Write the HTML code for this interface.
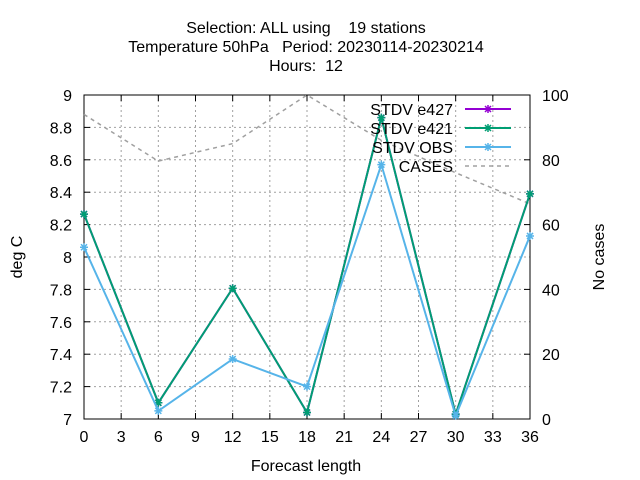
<!DOCTYPE html>
<html><head><meta charset="utf-8"><style>
html,body{margin:0;padding:0;background:#fff}
svg{display:block;font-family:"Liberation Sans",sans-serif}
</style></head><body>
<svg id="chart" width="640" height="480">
<g font-size="16" text-anchor="middle" fill="#000">
<text x="306" y="33" xml:space="preserve">Selection: ALL using    19 stations</text>
<text x="306" y="52" xml:space="preserve">Temperature 50hPa   Period: 20230114-20230214</text>
<text x="306" y="71" xml:space="preserve">Hours:  12</text>
</g>
<g id="grid"></g>
<g id="axes"></g>
<g id="series"></g>
<g id="legend"></g>
<text x="306" y="471" font-size="16" text-anchor="middle">Forecast length</text>
<text transform="translate(22,257) rotate(-90)" font-size="16" text-anchor="middle">deg C</text>
<text transform="translate(604,257) rotate(-90)" font-size="16" text-anchor="middle">No cases</text>
</svg>
<script>
const xs = [0, 6, 12, 18, 24, 30, 36];
const e427 = [8.265, 7.10, 7.807, 7.04, 8.86, 7.03, 8.39];
const e421 = [8.265, 7.10, 7.807, 7.04, 8.86, 7.03, 8.39];
const obs = [8.06, 7.05, 7.37, 7.20, 8.57, 7.02, 8.13];
const cases = [94, 79.6, 85, 100, 86, 76, 66.4];
const xTicks = [0,3,6,9,12,15,18,21,24,27,30,33,36];
const yTicks = [7,7.2,7.4,7.6,7.8,8,8.2,8.4,8.6,8.8,9];
const y2Ticks = [0,20,40,60,80,100];

const L=84,R=530,T=95,B=419;
const NS="http://www.w3.org/2000/svg";
const X=v=>L+(v-0)/36*(R-L);
const Y=v=>B-(v-7)/2*(B-T);
const Y2=v=>B-v/100*(B-T);
function mk(tag,attrs,parent){const e=document.createElementNS(NS,tag);for(const k in attrs)e.setAttribute(k,attrs[k]);parent.appendChild(e);return e;}
const grid=document.getElementById('grid'),axes=document.getElementById('axes'),ser=document.getElementById('series'),leg=document.getElementById('legend');
xTicks.forEach(t=>{
  const x=X(t);
  if(t>0&&t<36){const g=mk('line',{x1:x,x2:x,y1:T,y2:B,stroke:'#a0a0a0','stroke-dasharray':'2,3','stroke-width':1},grid);
  
  }
  mk('line',{x1:x,x2:x,y1:B,y2:B-6,stroke:'#000'},axes);
  mk('line',{x1:x,x2:x,y1:T,y2:T+6,stroke:'#000'},axes);
  const tx=mk('text',{x:x,y:B+23,'font-size':16,'text-anchor':'middle'},axes);tx.textContent=t;
  
  
});
yTicks.forEach(t=>{
  const y=Y(t);
  if(t>7&&t<9){const g=mk('line',{x1:L,x2:R,y1:y,y2:y,stroke:'#a0a0a0','stroke-dasharray':'2,3'},grid);
  
  }
  mk('line',{x1:L,x2:L+6,y1:y,y2:y,stroke:'#000'},axes);
  const tx=mk('text',{x:L-12,y:y+6,'font-size':16,'text-anchor':'end'},axes);tx.textContent=String(t);
  
  
});
y2Ticks.forEach(t=>{
  const y=Y2(t);
  mk('line',{x1:R,x2:R-6,y1:y,y2:y,stroke:'#000'},axes);
  const tx=mk('text',{x:R+12,y:y+6,'font-size':16,'text-anchor':'start'},axes);tx.textContent=t;
  
  
});
mk('rect',{x:L,y:T,width:R-L,height:B-T,fill:'none',stroke:'#000'},axes);
function star(g,x,y,c){
  mk('path',{d:`M${x-4},${y}H${x+4}M${x},${y-4}V${y+4}M${x-3},${y-3}L${x+3},${y+3}M${x-3},${y+3}L${x+3},${y-3}`,stroke:c,'stroke-width':1.5,fill:'none'},g);
}
function series(name,vals,yf,c,dash,pts){
  const g=mk('g',{},ser);
  
  
  const d=vals.map((v,i)=>(i?'L':'M')+X(xs[i])+','+yf(v)).join('');
  mk('path',{d:d,stroke:c,'stroke-width':dash?1.5:2,fill:'none','stroke-dasharray':dash?'4,4':'none'},g);
  if(pts)vals.forEach((v,i)=>star(g,X(xs[i]),yf(v),c));
}
series('cases-line',cases,Y2,'#a0a0a0',true,false);
series('e427-line',e427,Y,'#9400d3',false,true);
series('e421-line',e421,Y,'#009e73',false,true);
series('obs-line',obs,Y,'#56b4e9',false,true);
const items=[['STDV e427','#9400d3',0],['STDV e421','#009e73',0],['STDV OBS','#56b4e9',0],['CASES','#a0a0a0',1]];
items.forEach((it,i)=>{
  const y=109+i*19;
  const g=mk('g',{},leg);
  
  
  const t=mk('text',{x:453,y:y+6,'font-size':16,'text-anchor':'end'},g);t.textContent=it[0];
  mk('line',{x1:465,x2:511,y1:y,y2:y,stroke:it[1],'stroke-width':it[2]?1.5:2,'stroke-dasharray':it[2]?'4,4':'none'},g);
  if(!it[2])star(g,488,y,it[1]);
});
</script>
</body></html>
